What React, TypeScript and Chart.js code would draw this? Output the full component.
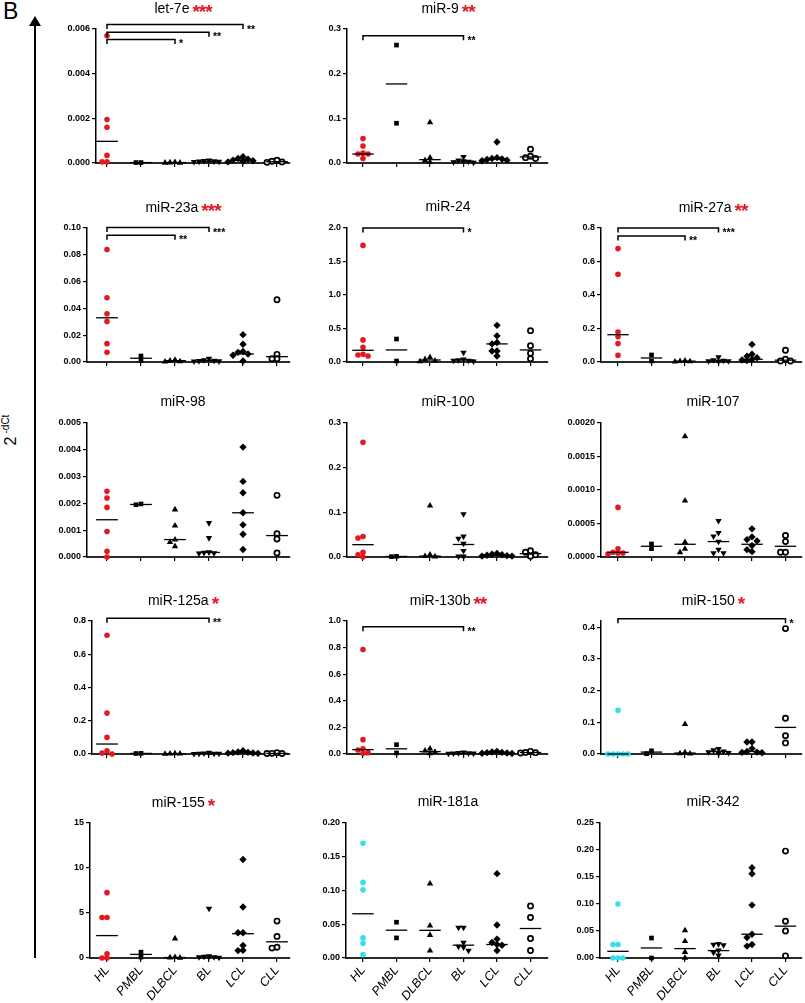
import React, { useEffect, useRef } from "react";
import { Chart, registerables } from "chart.js";

Chart.register(...registerables);

// ---------------- DATA ----------------
const CATEGORIES = ["HL", "PMBL", "DLBCL", "BL", "LCL", "CLL"];

// Each panel: values per group (HL, PMBL, DLBCL, BL, LCL, CLL), medians, y ticks, brackets [from, to, level, label]
const LET7E_VALUES = [
  [0.0057, 0.00195, 0.0016, 0.00034, 0.00005, 0.00005],
  [0.00002, 0.00002],
  [0.00004, 0.00002, 0.00001, 0.00001],
  [0.00012, 0.0001, 0.00008, 0.00007, 0.00006, 0.00005],
  [0.00028, 0.0002, 0.00017, 0.00013, 0.0001, 0.00008, 0.00005],
  [0.00012, 0.00008, 0.00005, 0.00003],
];
const LET7E_MEDIANS = [0.00097, 0.00002, 0.00002, 0.00007, 0.00012, 0.00006];
const LET7E_TICKS = [0, 0.002, 0.004, 0.006];
const LET7E_BRACKETS = [[0, 2, 0.00553, "*"], [0, 3, 0.00585, "**"], [0, 4, 0.0062, "**"]];

const MIR9_VALUES = [
  [0.055, 0.038, 0.022, 0.02, 0.02, 0.01],
  [0.264, 0.089],
  [0.091, 0.012, 0.006, 0.002],
  [0.014, 0.006, 0.004, 0.003, 0.002, 0.001],
  [0.047, 0.012, 0.01, 0.009, 0.008, 0.006, 0.005],
  [0.031, 0.015, 0.012, 0.01],
];
const MIR9_MEDIANS = [0.02, 0.177, 0.0075, 0.004, 0.009, 0.0135];
const MIR9_TICKS = [0, 0.1, 0.2, 0.3];
const MIR9_BRACKETS = [[0, 3, 0.285, "**"]];

const MIR23A_VALUES = [
  [0.084, 0.048, 0.036, 0.0303, 0.0137, 0.0072],
  [0.0045, 0.0012],
  [0.0016, 0.0009, 0.0005, 0.0003],
  [0.0025, 0.0015, 0.001, 0.0008, 0.0006, 0.0005],
  [0.0204, 0.0132, 0.0078, 0.0072, 0.006, 0.005, 0.0008],
  [0.0465, 0.0057, 0.0025, 0.0025],
];
const MIR23A_MEDIANS = [0.033, 0.0028, 0.001, 0.0011, 0.006, 0.004];
const MIR23A_TICKS = [0, 0.02, 0.04, 0.06, 0.08, 0.1];
const MIR23A_BRACKETS = [[0, 2, 0.0945, "**"], [0, 3, 0.1003, "***"]];

const MIR24_VALUES = [
  [1.74, 0.33, 0.22, 0.115, 0.105, 0.09],
  [0.343, 0.015],
  [0.07, 0.04, 0.02, 0.01],
  [0.14, 0.04, 0.03, 0.02, 0.02, 0.01],
  [0.547, 0.39, 0.29, 0.27, 0.165, 0.165, 0.09],
  [0.468, 0.244, 0.13, 0.05],
];
const MIR24_MEDIANS = [0.175, 0.18, 0.03, 0.03, 0.27, 0.18];
const MIR24_TICKS = [0, 0.5, 1.0, 1.5, 2.0];
const MIR24_BRACKETS = [[0, 3, 2.0, "*"]];

const MIR27A_VALUES = [
  [0.677, 0.524, 0.179, 0.151, 0.11, 0.04],
  [0.042, 0.006],
  [0.008, 0.005, 0.003, 0.002],
  [0.03, 0.012, 0.008, 0.006, 0.005, 0.004],
  [0.105, 0.046, 0.035, 0.025, 0.015, 0.012, 0.008],
  [0.07, 0.016, 0.006, 0.006],
];
const MIR27A_MEDIANS = [0.163, 0.024, 0.005, 0.007, 0.016, 0.011];
const MIR27A_TICKS = [0, 0.2, 0.4, 0.6, 0.8];
const MIR27A_BRACKETS = [[0, 2, 0.752, "**"], [0, 3, 0.8, "***"]];

const MIR98_VALUES = [
  [0.00245, 0.0022, 0.00185, 0.00095, 0.00021, 0.0],
  [0.00198, 0.00195],
  [0.00177, 0.00117, 0.00065, 0.00055, 0.0004],
  [0.00127, 0.00071, 0.00018, 0.00016, 0.00015, 0.00014],
  [0.0041, 0.00282, 0.0024, 0.00165, 0.0012, 0.00085, 0.00028],
  [0.0023, 0.00087, 0.00067, 0.00015],
];
const MIR98_MEDIANS = [0.00139, 0.00196, 0.00065, 0.00017, 0.00165, 0.0008];
const MIR98_TICKS = [0, 0.001, 0.002, 0.003, 0.004, 0.005];

const MIR100_VALUES = [
  [0.257, 0.046, 0.0425, 0.0105, 0.005, 0.0],
  [0.0015, 0.0008],
  [0.115, 0.005, 0.002, 0.001],
  [0.096, 0.046, 0.041, 0.03, 0.014, 0.0015, 0.0015],
  [0.008, 0.006, 0.005, 0.004, 0.003, 0.002, 0.002],
  [0.014, 0.0105, 0.005, 0.0015],
];
const MIR100_MEDIANS = [0.0276, 0.0012, 0.002, 0.028, 0.004, 0.0075];
const MIR100_TICKS = [0, 0.1, 0.2, 0.3];

const MIR107_VALUES = [
  [0.00074, 0.000124, 0.00007, 0.00006, 0.00006, 0.000045],
  [0.000194, 0.000124],
  [0.0018, 0.00084, 0.00022, 0.00012, 0.00007],
  [0.00054, 0.00036, 0.00031, 0.00023, 0.00011, 0.00006, 0.00006],
  [0.00042, 0.0003, 0.00026, 0.00024, 0.00017, 0.00011, 0.00008],
  [0.00032, 0.00023, 0.00007, 0.00007],
];
const MIR107_MEDIANS = [0.00007, 0.00016, 0.00019, 0.00023, 0.00019, 0.00016];
const MIR107_TICKS = [0, 0.0005, 0.001, 0.0015, 0.002];

const MIR125A_VALUES = [
  [0.714, 0.246, 0.1, 0.02, 0.006, 0.0],
  [0.004, 0.003],
  [0.003, 0.002, 0.002, 0.001],
  [0.008, 0.004, 0.003, 0.002, 0.002, 0.001],
  [0.02, 0.012, 0.01, 0.008, 0.006, 0.005, 0.004],
  [0.008, 0.004, 0.003, 0.003],
];
const MIR125A_MEDIANS = [0.06, 0.0035, 0.002, 0.003, 0.008, 0.0035];
const MIR125A_TICKS = [0, 0.2, 0.4, 0.6, 0.8];
const MIR125A_BRACKETS = [[0, 3, 0.816, "**"]];

const MIR130B_VALUES = [
  [0.786, 0.108, 0.04, 0.03, 0.01, 0.005],
  [0.07, 0.008],
  [0.04, 0.025, 0.015, 0.005],
  [0.012, 0.008, 0.006, 0.005, 0.004, 0.003],
  [0.02, 0.015, 0.012, 0.01, 0.008, 0.006, 0.004],
  [0.02, 0.012, 0.01, 0.008],
];
const MIR130B_MEDIANS = [0.033, 0.039, 0.018, 0.005, 0.01, 0.011];
const MIR130B_TICKS = [0, 0.2, 0.4, 0.6, 0.8, 1.0];
const MIR130B_BRACKETS = [[0, 3, 0.957, "**"]];

const MIR150_VALUES = [
  [0.138, 0, 0, 0, 0, 0],
  [0.01, 0.001],
  [0.094, 0.005, 0.002, 0.001],
  [0.016, 0.012, 0.008, 0.006, 0.004, 0.002],
  [0.038, 0.038, 0.017, 0.008, 0.006, 0.005, 0.004],
  [0.396, 0.113, 0.058, 0.035],
];
const MIR150_MEDIANS = [0, 0.006, 0.003, 0.008, 0.008, 0.084];
const MIR150_TICKS = [0, 0.1, 0.2, 0.3, 0.4];
const MIR150_BRACKETS = [[0, 5, 0.427, "*"]];

const MIR155_VALUES = [
  [7.26, 4.5, 4.5, 0.48, 0, 0],
  [0.65, 0.1],
  [2.16, 0.1, 0.05, 0.02],
  [5.5, 0.2, 0.15, 0.1, 0.1, 0.05],
  [10.95, 5.66, 2.8, 2.8, 1.4, 0.86, 0.82],
  [4.1, 2.4, 1.2, 1.1],
];
const MIR155_MEDIANS = [2.49, 0.4, 0.05, 0.12, 2.7, 1.8];
const MIR155_TICKS = [0, 5, 10, 15];

const MIR181A_VALUES = [
  [0.17, 0.112, 0.101, 0.0298, 0.0218, 0.005],
  [0.053, 0.0298],
  [0.11, 0.048, 0.034, 0.011],
  [0.045, 0.045, 0.023, 0.017, 0.016, 0.011],
  [0.125, 0.049, 0.028, 0.023, 0.02, 0.019, 0.011],
  [0.077, 0.06, 0.029, 0.011],
];
const MIR181A_MEDIANS = [0.0655, 0.0412, 0.041, 0.019, 0.02, 0.0437];
const MIR181A_TICKS = [0, 0.05, 0.1, 0.15, 0.2];

const MIR342_VALUES = [
  [0.1, 0.025, 0.025, 0, 0, 0],
  [0.037, 0.0],
  [0.051, 0.031, 0.011, 0.0],
  [0.026, 0.025, 0.024, 0.014, 0.01, 0.005],
  [0.167, 0.156, 0.098, 0.044, 0.038, 0.025, 0.022],
  [0.198, 0.068, 0.05, 0.004],
];
const MIR342_MEDIANS = [0.0124, 0.0186, 0.0174, 0.0137, 0.044, 0.059];
const MIR342_TICKS = [0, 0.05, 0.1, 0.15, 0.2, 0.25];

// ---------------- STYLE / LAYOUT ----------------
const RED = "#e4191f";
const CYAN = "#35dfec";
const FONT = '"Liberation Sans", Arial, sans-serif';

const ROW_TOP = [29, 228, 423, 621, 823];
const ROW_BOTTOM = [163, 362, 557, 754, 958];
const COL_HL = [107, 363, 618];
const COL_STEP = [34, 33.5, 33.5];
const COL_RIGHT = [290, 548, 802];
const COL_TITLE_X = [183, 448, 713];

const PANELS = [
  { title: "let-7e", stars: "***", values: LET7E_VALUES, medians: LET7E_MEDIANS, ticks: LET7E_TICKS, max: 0.006, dec: 3, brackets: LET7E_BRACKETS, hl: RED, row: 0, col: 0, axisX: 96 },
  { title: "miR-9", stars: "**", values: MIR9_VALUES, medians: MIR9_MEDIANS, ticks: MIR9_TICKS, max: 0.3, dec: 1, brackets: MIR9_BRACKETS, hl: RED, row: 0, col: 1, axisX: 347 },
  { title: "miR-23a", stars: "***", values: MIR23A_VALUES, medians: MIR23A_MEDIANS, ticks: MIR23A_TICKS, max: 0.1, dec: 2, brackets: MIR23A_BRACKETS, hl: RED, row: 1, col: 0, axisX: 87 },
  { title: "miR-24", stars: "", values: MIR24_VALUES, medians: MIR24_MEDIANS, ticks: MIR24_TICKS, max: 2.0, dec: 1, brackets: MIR24_BRACKETS, hl: RED, row: 1, col: 1, axisX: 347 },
  { title: "miR-27a", stars: "**", values: MIR27A_VALUES, medians: MIR27A_MEDIANS, ticks: MIR27A_TICKS, max: 0.8, dec: 1, brackets: MIR27A_BRACKETS, hl: RED, row: 1, col: 2, axisX: 601 },
  { title: "miR-98", stars: "", values: MIR98_VALUES, medians: MIR98_MEDIANS, ticks: MIR98_TICKS, max: 0.005, dec: 3, brackets: [], hl: RED, row: 2, col: 0, axisX: 87 },
  { title: "miR-100", stars: "", values: MIR100_VALUES, medians: MIR100_MEDIANS, ticks: MIR100_TICKS, max: 0.3, dec: 1, brackets: [], hl: RED, row: 2, col: 1, axisX: 347 },
  { title: "miR-107", stars: "", values: MIR107_VALUES, medians: MIR107_MEDIANS, ticks: MIR107_TICKS, max: 0.002, dec: 4, brackets: [], hl: RED, row: 2, col: 2, axisX: 601 },
  { title: "miR-125a", stars: "*", values: MIR125A_VALUES, medians: MIR125A_MEDIANS, ticks: MIR125A_TICKS, max: 0.8, dec: 1, brackets: MIR125A_BRACKETS, hl: RED, row: 3, col: 0, axisX: 92 },
  { title: "miR-130b", stars: "**", values: MIR130B_VALUES, medians: MIR130B_MEDIANS, ticks: MIR130B_TICKS, max: 1.0, dec: 1, brackets: MIR130B_BRACKETS, hl: RED, row: 3, col: 1, axisX: 347 },
  { title: "miR-150", stars: "*", values: MIR150_VALUES, medians: MIR150_MEDIANS, ticks: MIR150_TICKS, max: 0.42, dec: 1, brackets: MIR150_BRACKETS, hl: CYAN, row: 3, col: 2, axisX: 601 },
  { title: "miR-155", stars: "*", values: MIR155_VALUES, medians: MIR155_MEDIANS, ticks: MIR155_TICKS, max: 15, dec: 0, brackets: [], hl: RED, row: 4, col: 0, axisX: 90 },
  { title: "miR-181a", stars: "", values: MIR181A_VALUES, medians: MIR181A_MEDIANS, ticks: MIR181A_TICKS, max: 0.2, dec: 2, brackets: [], hl: CYAN, row: 4, col: 1, axisX: 346 },
  { title: "miR-342", stars: "", values: MIR342_VALUES, medians: MIR342_MEDIANS, ticks: MIR342_TICKS, max: 0.25, dec: 2, brackets: [], hl: CYAN, row: 4, col: 2, axisX: 600 },
];

const POINT_STYLE = ["circle", "rect", "triangle", "triangle", "rectRot", "circle"];
const POINT_RADIUS = [2.8, 3.3, 3.7, 3.7, 3.7, 2.6];
const POINT_ROT = [0, 0, 0, 180, 0, 0];

// Spread points of equal-ish value horizontally (like a scatter dot plot)
function swarm(values: number[], cat: number, pxPerUnit: number, catStepPx: number) {
  const STEP = 5;
  const MIN = 4.2;
  const order = [0, -1, 1, -2, 2, -3, 3, -4, 4];
  const placed: { dx: number; py: number }[] = [];
  const out: { x: number; y: number }[] = [];
  for (const v of values) {
    const py = v * pxPerUnit;
    let dx = 0;
    for (const k of order) {
      const cand = k * STEP;
      if (placed.every((q) => Math.hypot(q.dx - cand, q.py - py) >= MIN)) {
        dx = cand;
        break;
      }
    }
    placed.push({ dx, py });
    out.push({ x: cat + dx / catStepPx, y: v });
  }
  return out;
}

function Panel({ p }: { p: any }) {
  const ref = useRef<HTMLCanvasElement>(null);
  const top = ROW_TOP[p.row];
  const bottom = ROW_BOTTOM[p.row];
  const hlX = COL_HL[p.col];
  const step = COL_STEP[p.col];
  const right = COL_RIGHT[p.col];
  const isBottom = p.row === 4;
  const cLeft = p.axisX - 48;
  const cTop = top - 24;
  const cRight = Math.min(805, right + 18);
  const cBottom = bottom + (isBottom ? 45 : 8);
  const W = cRight - cLeft;
  const H = cBottom - cTop;

  useEffect(() => {
    if (!ref.current) return;
    const plotH = bottom - top;
    const pxPerUnit = plotH / p.max;
    const xMin = -(hlX - p.axisX) / step;
    const xMax = (right - hlX) / step;

    const pointSets = p.values.map((vals: number[], gi: number) => ({
      data: swarm(vals, gi, pxPerUnit, step),
      pointStyle: POINT_STYLE[gi],
      pointRadius: POINT_RADIUS[gi],
      pointRotation: POINT_ROT[gi],
      backgroundColor: gi === 0 ? p.hl : gi === 5 ? "#ffffff" : "#000000",
      borderColor: gi === 0 ? p.hl : "#000000",
      borderWidth: gi === 5 ? 1.7 : 0,
      showLine: false,
      clip: false,
    }));
    const medianSets = p.medians.map((m: number, gi: number) => ({
      data: [
        { x: gi - 0.32, y: m },
        { x: gi + 0.32, y: m },
      ],
      showLine: true,
      borderColor: "#000000",
      borderWidth: 1.3,
      pointRadius: 0,
      clip: false,
    }));

    const bracketPlugin = {
      id: "brackets",
      afterDraw(chart: any) {
        const { ctx } = chart;
        const xs = chart.scales.x;
        const ys = chart.scales.y;
        ctx.save();
        ctx.strokeStyle = "#000";
        ctx.fillStyle = "#000";
        ctx.lineWidth = 1.5;
        ctx.font = `bold 10.5px ${FONT}`;
        ctx.textAlign = "left";
        ctx.textBaseline = "alphabetic";
        for (const b of p.brackets) {
          const x1 = xs.getPixelForValue(b[0]);
          const x2 = xs.getPixelForValue(b[1]);
          const y = ys.getPixelForValue(b[2]);
          ctx.beginPath();
          ctx.moveTo(x1, y + 4.5);
          ctx.lineTo(x1, y);
          ctx.lineTo(x2, y);
          ctx.lineTo(x2, y + 4.5);
          ctx.stroke();
          ctx.fillText(b[3], x2 + 4, y + 8);
        }
        ctx.restore();
      },
    };

    const chart = new Chart(ref.current, {
      type: "scatter",
      data: { datasets: [...medianSets, ...pointSets] },
      options: {
        animation: false,
        responsive: false,
        events: [],
        layout: {
          autoPadding: false,
          padding: { top: top - cTop, right: cRight - right, bottom: 0, left: 0 },
        },
        plugins: { legend: { display: false }, tooltip: { enabled: false } },
        scales: {
          x: {
            type: "linear",
            min: xMin,
            max: xMax,
            afterBuildTicks: (s: any) => {
              s.ticks = CATEGORIES.map((_, i) => ({ value: i }));
            },
            afterFit: (s: any) => {
              s.height = cBottom - bottom;
            },
            grid: { display: true, drawOnChartArea: false, drawTicks: true, tickLength: 4, color: "#000", lineWidth: 1.2 },
            border: { display: true, color: "#2a2a2a", width: 2 },
            ticks: {
              display: isBottom,
              autoSkip: false,
              minRotation: 50,
              maxRotation: 50,
              padding: 1,
              color: "#000",
              font: { family: FONT, size: 12.5, style: "italic" },
              callback: (v: any) => CATEGORIES[Math.round(Number(v))] ?? "",
            },
          },
          y: {
            type: "linear",
            min: 0,
            max: p.max,
            afterBuildTicks: (s: any) => {
              s.ticks = p.ticks.map((v: number) => ({ value: v }));
            },
            afterFit: (s: any) => {
              s.width = p.axisX - cLeft;
            },
            grid: { display: true, drawOnChartArea: false, drawTicks: true, tickLength: 4, color: "#000", lineWidth: 1.2 },
            border: { display: true, color: "#000", width: 1.5 },
            ticks: {
              padding: 2,
              color: "#000",
              font: { family: FONT, size: 9, weight: "bold" },
              callback: (v: any) => Number(v).toFixed(p.dec),
            },
          },
        },
      },
      plugins: [bracketPlugin],
    } as any);
    return () => chart.destroy();
  }, []);

  return (
    <canvas
      ref={ref}
      width={W}
      height={H}
      style={{ position: "absolute", left: cLeft, top: cTop, width: W, height: H }}
    />
  );
}

function Title({ p }: { p: any }) {
  const cx = COL_TITLE_X[p.col];
  const top = ROW_TOP[p.row] - 31;
  return (
    <div
      style={{
        position: "absolute",
        left: cx - 110,
        width: 220,
        top,
        height: 18,
        lineHeight: "18px",
        textAlign: "center",
        fontFamily: FONT,
        fontSize: 14,
        color: "#000",
        whiteSpace: "nowrap",
      }}
    >
      {p.title}
      {p.stars ? (
        <span
          style={{
            color: RED,
            fontSize: 19,
            fontWeight: "bold",
            marginLeft: 3,
            letterSpacing: -1,
            position: "relative",
            top: 5,
          }}
        >
          {p.stars}
        </span>
      ) : null}
    </div>
  );
}

export default function App() {
  useEffect(() => {
    document.body.style.margin = "0";
  }, []);
  return (
    <div
      style={{
        position: "absolute",
        left: 0,
        top: 0,
        width: 805,
        height: 1003,
        background: "#fff",
        overflow: "hidden",
        fontFamily: FONT,
      }}
    >
      <div style={{ position: "absolute", left: 3, top: -2, fontSize: 23, fontFamily: FONT, color: "#000" }}>B</div>
      {/* vertical arrow */}
      <div style={{ position: "absolute", left: 34, top: 24, width: 2, height: 934, background: "#000" }} />
      <div
        style={{
          position: "absolute",
          left: 29,
          top: 16,
          width: 0,
          height: 0,
          borderLeft: "6px solid transparent",
          borderRight: "6px solid transparent",
          borderBottom: "10px solid #000",
        }}
      />
      <div
        style={{
          position: "absolute",
          left: 11,
          top: 430,
          transform: "translate(-50%, -50%) rotate(-90deg)",
          whiteSpace: "nowrap",
          fontFamily: FONT,
          color: "#000",
        }}
      >
        <span style={{ fontSize: 16 }}>2</span>
        <span style={{ fontSize: 10, position: "relative", top: -7, marginLeft: 3 }}>-dCt</span>
      </div>
      {PANELS.map((p, i) => (
        <Panel key={"c" + i} p={p} />
      ))}
      {PANELS.map((p, i) => (
        <Title key={"t" + i} p={p} />
      ))}
    </div>
  );
}
